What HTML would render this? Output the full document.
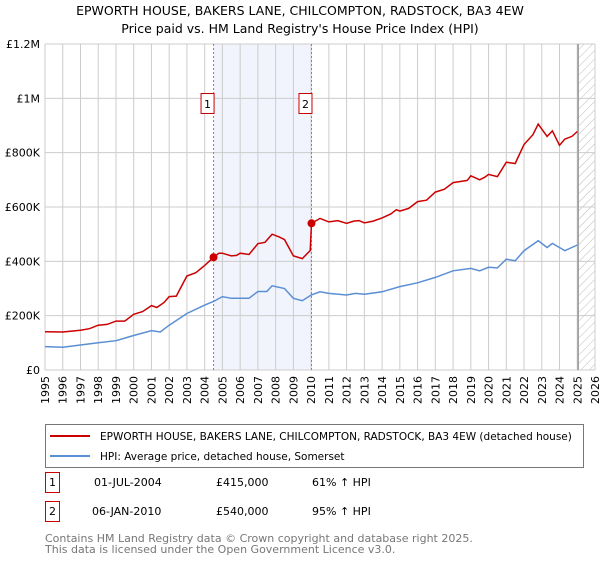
<!DOCTYPE html>
<html><head><meta charset="utf-8"><style>
body{margin:0;background:#fff;font-family:"DejaVu Sans","Liberation Sans",sans-serif;}
</style></head><body>
<svg width="600" height="560" viewBox="0 0 600 560" xmlns="http://www.w3.org/2000/svg" font-family="DejaVu Sans, Liberation Sans, sans-serif">
<defs><pattern id="hatch" width="6" height="6" patternUnits="userSpaceOnUse" patternTransform="rotate(45)"><line x1="0" y1="0" x2="0" y2="6" stroke="#bbb" stroke-width="1"/></pattern></defs>
<text x="300" y="15" text-anchor="middle" font-size="12.5" fill="#000">EPWORTH HOUSE, BAKERS LANE, CHILCOMPTON, RADSTOCK, BA3 4EW</text>
<text x="300" y="33" text-anchor="middle" font-size="12.5" fill="#000">Price paid vs. HM Land Registry's House Price Index (HPI)</text>
<g id="plot"></g>
<g id="legend">
<rect x="45.5" y="424.5" width="538" height="43" fill="#fff" stroke="#777"/>
<line x1="50" y1="436" x2="90" y2="436" stroke="#cc0000" stroke-width="2"/>
<text x="100" y="440" font-size="10.5">EPWORTH HOUSE, BAKERS LANE, CHILCOMPTON, RADSTOCK, BA3 4EW (detached house)</text>
<line x1="50" y1="456" x2="90" y2="456" stroke="#5b8fd4" stroke-width="2"/>
<text x="100" y="460" font-size="10.5">HPI: Average price, detached house, Somerset</text>
</g>
<g font-size="11">
<rect x="45.5" y="472.5" width="14" height="20" fill="#fff" stroke="#cc0000"/>
<text x="52.5" y="486" text-anchor="middle">1</text>
<text x="94" y="486">01-JUL-2004</text>
<text x="216" y="486">£415,000</text>
<text x="312" y="486">61% ↑ HPI</text>
<rect x="45.5" y="501.5" width="14" height="20" fill="#fff" stroke="#cc0000"/>
<text x="52.5" y="515" text-anchor="middle">2</text>
<text x="92" y="515">06-JAN-2010</text>
<text x="216" y="515">£540,000</text>
<text x="312" y="515">95% ↑ HPI</text>
</g>
<text x="45" y="542" font-size="11" fill="#777">Contains HM Land Registry data © Crown copyright and database right 2025.</text>
<text x="45" y="553" font-size="11" fill="#777">This data is licensed under the Open Government Licence v3.0.</text>
</svg>
<script>
const yearTicks=[1995,1996,1997,1998,1999,2000,2001,2002,2003,2004,2005,2006,2007,2008,2009,2010,2011,2012,2013,2014,2015,2016,2017,2018,2019,2020,2021,2022,2023,2024,2025,2026];
const yTicks=[0,200000,400000,600000,800000,1000000,1200000];
const yTickLabels=["£0","£200K","£400K","£600K","£800K","£1M","£1.2M"];
const propT=[1995,1996,1997,1997.5,1998,1998.5,1999,1999.5,2000,2000.5,2001,2001.3,2001.7,2002,2002.4,2003,2003.5,2004,2004.5,2004.8,2005,2005.5,2005.8,2006,2006.5,2007,2007.4,2007.8,2008.2,2008.5,2009,2009.5,2009.95,2010.02,2010.5,2011,2011.5,2012,2012.4,2012.7,2013,2013.5,2014,2014.5,2014.8,2015,2015.5,2016,2016.5,2017,2017.5,2018,2018.5,2018.8,2019,2019.5,2019.8,2020,2020.5,2021,2021.5,2022,2022.5,2022.8,2023.3,2023.6,2024,2024.3,2024.7,2025];
const propV=[141,140,146,152,165,168,180,180,205,215,237,230,248,270,272,346,358,385,415,430,430,420,422,430,425,465,470,500,490,480,420,410,440,540,558,545,550,540,548,550,542,548,560,575,590,585,595,620,625,655,665,690,695,698,715,700,710,720,712,765,760,830,866,905,860,880,827,850,860,878];
const hpiT=[1995,1996,1997,1998,1999,2000,2001,2001.5,2002,2003,2004,2004.5,2005,2005.5,2006,2006.5,2007,2007.5,2007.8,2008.5,2009,2009.5,2010,2010.5,2011,2012,2012.5,2013,2014,2015,2016,2017,2018,2019,2019.5,2020,2020.5,2021,2021.5,2022,2022.8,2023.3,2023.6,2024.3,2025];
const hpiV=[86,84,92,100,108,127,145,140,165,208,239,252,270,264,264,264,289,289,310,300,264,255,276,288,282,276,282,279,288,307,321,341,365,374,365,378,376,408,402,439,476,451,466,439,460];
const sales=[[2004.5,415],[2010.02,540]];
const L=45,R=595,T=44,B=370;
const x=t=>L+(t-1995)*(R-L)/31;
const y=v=>B-v*(B-T)/1200000;
const NS="http://www.w3.org/2000/svg";
const g=document.getElementById('plot');
function mk(tag,a){const e=document.createElementNS(NS,tag);for(const k in a)e.setAttribute(k,a[k]);g.appendChild(e);return e;}
let e=mk('rect',{x:x(2004.5),y:T,width:x(2010.02)-x(2004.5),height:B-T,fill:'#f1f4fc'});


e=mk('rect',{x:x(2025.05),y:T,width:R-x(2025.05),height:B-T,fill:'url(#hatch)'});


yearTicks.forEach(t=>{const l=mk('line',{x1:x(t),x2:x(t),y1:T,y2:B,stroke:'#ccc','stroke-width':1});


const tx=mk('text',{x:0,y:0,'font-size':11,'text-anchor':'end',transform:`translate(${x(t)+4},${B+6}) rotate(-90)`});tx.textContent=t;

});
yTicks.forEach((v,i)=>{const l=mk('line',{x1:L,x2:R,y1:y(v),y2:y(v),stroke:'#ccc','stroke-width':1});


const tx=mk('text',{x:L-5,y:y(v)+4,'font-size':11,'text-anchor':'end'});tx.textContent=yTickLabels[i];

});
e=mk('line',{x1:x(2025.05),x2:x(2025.05),y1:T,y2:B,stroke:'#999','stroke-width':1.5});


sales.forEach((s,i)=>{const l=mk('line',{x1:x(s[0]),x2:x(s[0]),y1:T,y2:B,stroke:'#e06060','stroke-dasharray':'2,2','stroke-width':1});

});
const pts=(ts,vs)=>ts.map((t,i)=>x(t).toFixed(1)+','+y(vs[i]*1000).toFixed(1)).join(' ');
e=mk('polyline',{points:pts(hpiT,hpiV),fill:'none',stroke:'#5b8fd4','stroke-width':1.5});


e=mk('polyline',{points:pts(propT,propV),fill:'none',stroke:'#cc0000','stroke-width':1.5});


sales.forEach((s,i)=>{const c=mk('circle',{cx:x(s[0]),cy:y(s[1]*1000),r:4,fill:'#cc0000'});


const bx=x(s[0])-13;
const r=mk('rect',{x:bx+0.5,y:93.5,width:13,height:20,fill:'#fff',stroke:'#cc0000'});


const tx=mk('text',{x:bx+7,y:108,'font-size':11,'text-anchor':'middle'});tx.textContent=String(i+1);

});
</script>
</body></html>
